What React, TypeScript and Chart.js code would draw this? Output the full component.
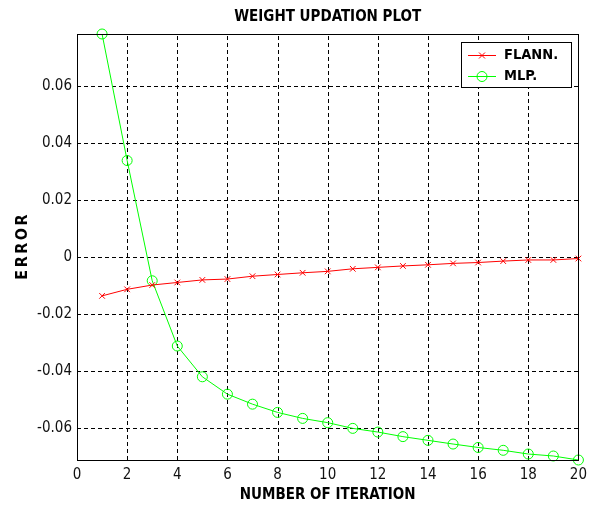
import React, { useEffect, useRef } from "react";
import { Chart, registerables } from "chart.js";

Chart.register(...registerables);

const iterations = [1, 2, 3, 4, 5, 6, 7, 8, 9, 10, 11, 12, 13, 14, 15, 16, 17, 18, 19, 20];
const flannError = [
  -0.0135, -0.0112, -0.0097, -0.0088, -0.0079, -0.0076, -0.0066, -0.006, -0.0054, -0.0049,
  -0.004, -0.0035, -0.003, -0.0026, -0.0021, -0.0018, -0.0013, -0.0009, -0.0009, -0.0004,
];
const mlpError = [
  0.0784, 0.034, -0.0082, -0.0311, -0.0419, -0.048, -0.0515, -0.0544, -0.0565, -0.058,
  -0.06, -0.0613, -0.0629, -0.0642, -0.0655, -0.0667, -0.0677, -0.069, -0.0697, -0.0711,
];
const xTicks = [0, 2, 4, 6, 8, 10, 12, 14, 16, 18, 20];
const yTicks = [-0.06, -0.04, -0.02, 0, 0.02, 0.04, 0.06];
const seriesNames = ["FLANN.", "MLP."];
const chartTitle = "WEIGHT UPDATION PLOT";
const xTitle = "NUMBER OF ITERATION";
const yTitle = "ERROR";

const FONT = "'Liberation Sans Narrow', 'Arial Narrow', 'DejaVu Sans Condensed', 'Liberation Sans', Arial, sans-serif";

// dashed grid drawn from the scales' own ticks
const dashedGridPlugin = {
  id: "dashedGrid",
  beforeDatasetsDraw(chart: any) {
    const { ctx, chartArea, scales } = chart;
    ctx.save();
    ctx.strokeStyle = "#000";
    ctx.lineWidth = 1;
    ctx.setLineDash([4, 3]);
    scales.x.ticks.forEach((t: any) => {
      const px = Math.round(scales.x.getPixelForValue(t.value)) + 0.5;
      if (px <= chartArea.left + 1 || px >= chartArea.right - 1) return;
      ctx.beginPath();
      ctx.moveTo(px, chartArea.bottom);
      ctx.lineTo(px, chartArea.top);
      ctx.stroke();
    });
    scales.y.ticks.forEach((t: any) => {
      const py = Math.round(scales.y.getPixelForValue(t.value)) + 0.5;
      if (py <= chartArea.top + 1 || py >= chartArea.bottom - 1) return;
      ctx.beginPath();
      ctx.moveTo(chartArea.left, py);
      ctx.lineTo(chartArea.right, py);
      ctx.stroke();
    });
    ctx.restore();
  },
};

const framePlugin = {
  id: "frame",
  afterDatasetsDraw(chart: any) {
    const { ctx, chartArea } = chart;
    ctx.save();
    ctx.strokeStyle = "#000";
    ctx.lineWidth = 1;
    ctx.setLineDash([]);
    ctx.strokeRect(
      Math.round(chartArea.left) + 0.5,
      Math.round(chartArea.top) + 0.5,
      Math.round(chartArea.right - chartArea.left),
      Math.round(chartArea.bottom - chartArea.top)
    );
    ctx.restore();
  },
};

// y-axis title with MATLAB-like letter spacing
const yTitlePlugin = {
  id: "yTitleSpaced",
  afterDraw(chart: any) {
    const { ctx, chartArea } = chart;
    ctx.save();
    ctx.translate(23, (chartArea.top + chartArea.bottom) / 2);
    ctx.rotate(-Math.PI / 2);
    ctx.fillStyle = "#000";
    ctx.font = `bold 16px ${FONT}`;
    (ctx as any).letterSpacing = "2.5px";
    ctx.textAlign = "center";
    ctx.textBaseline = "middle";
    ctx.fillText(yTitle, 1.25, 0);
    ctx.restore();
  },
};

const boxLegendPlugin = {
  id: "boxLegend",
  afterDraw(chart: any) {
    const { ctx, chartArea } = chart;
    const w = 110;
    const h = 45;
    const x0 = Math.round(chartArea.right - 7 - w);
    const y0 = Math.round(chartArea.top + 8);
    ctx.save();
    ctx.setLineDash([]);
    ctx.fillStyle = "#fff";
    ctx.fillRect(x0, y0, w, h);
    ctx.strokeStyle = "#000";
    ctx.lineWidth = 1;
    ctx.strokeRect(x0 + 0.5, y0 + 0.5, w, h);
    chart.data.datasets.forEach((ds: any, i: number) => {
      const cy = y0 + 13.5 + i * 21;
      ctx.strokeStyle = ds.borderColor;
      ctx.lineWidth = 1;
      ctx.beginPath();
      ctx.moveTo(x0 + 7, cy);
      ctx.lineTo(x0 + 35, cy);
      ctx.stroke();
      const mx = x0 + 21;
      if (ds.pointStyle === "circle") {
        ctx.beginPath();
        ctx.arc(mx, cy, ds.pointRadius, 0, Math.PI * 2);
        ctx.stroke();
      } else {
        const r = ds.pointRadius * 0.75;
        ctx.beginPath();
        ctx.moveTo(mx - r, cy - r);
        ctx.lineTo(mx + r, cy + r);
        ctx.moveTo(mx - r, cy + r);
        ctx.lineTo(mx + r, cy - r);
        ctx.stroke();
      }
      ctx.fillStyle = "#000";
      ctx.font = `bold 14.5px ${FONT}`;
      ctx.textBaseline = "middle";
      ctx.textAlign = "left";
      ctx.fillText(ds.label, x0 + 43, cy);
    });
    ctx.restore();
  },
};

export default function App() {
  const canvasRef = useRef<HTMLCanvasElement | null>(null);

  useEffect(() => {
    if (!canvasRef.current) return;
    const yMin = Math.min(...mlpError, ...flannError);
    const yMax = Math.max(...mlpError, ...flannError);
    const chart = new Chart(canvasRef.current, {
      type: "line",
      data: {
        datasets: [
          {
            label: seriesNames[0],
            data: iterations.map((x, i) => ({ x, y: flannError[i] })),
            borderColor: "#ff0000",
            backgroundColor: "#ff0000",
            borderWidth: 1,
            pointStyle: "crossRot",
            pointRadius: 4,
            pointBorderWidth: 1,
            pointBorderColor: "#ff0000",
            tension: 0,
            clip: false,
          } as any,
          {
            label: seriesNames[1],
            data: iterations.map((x, i) => ({ x, y: mlpError[i] })),
            borderColor: "#00ff00",
            backgroundColor: "rgba(0,0,0,0)",
            borderWidth: 1,
            pointStyle: "circle",
            pointRadius: 5,
            pointBorderWidth: 1,
            pointBorderColor: "#00ff00",
            pointBackgroundColor: "rgba(0,0,0,0)",
            tension: 0,
            clip: false,
          } as any,
        ],
      },
      options: {
        animation: false,
        responsive: false,
        layout: { padding: { left: 0, right: 14, top: 0, bottom: 0 } },
        plugins: {
          legend: { display: false },
          tooltip: { enabled: false },
          title: {
            display: true,
            text: chartTitle,
            fullSize: false,
            color: "#000",
            font: { family: FONT, size: 15, weight: "bold", lineHeight: 1.2 },
            padding: { top: 8, bottom: 8 },
          },
        },
        scales: {
          x: {
            type: "linear",
            min: 0,
            max: 20,
            afterBuildTicks: (s: any) => {
              s.ticks = xTicks.map((v) => ({ value: v }));
            },
            afterFit: (s: any) => {
              s.height = 48;
            },
            grid: { display: false, drawTicks: false },
            border: { display: true, color: "#000", width: 1 },
            ticks: {
              color: "#111",
              font: { family: FONT, size: 15 },
              padding: 6,
              maxRotation: 0,
              callback: (v: any) => String(v),
            },
            title: {
              display: true,
              text: xTitle,
              color: "#000",
              font: { family: FONT, size: 15, weight: "bold", lineHeight: 1.2 },
              padding: { top: 0, bottom: 4 },
            },
          },
          y: {
            type: "linear",
            min: yMin,
            max: yMax,
            afterBuildTicks: (s: any) => {
              s.ticks = yTicks.map((v) => ({ value: v }));
            },
            afterFit: (s: any) => {
              s.width = 77;
            },
            grid: { display: false, drawTicks: false },
            border: { display: true, color: "#000", width: 1 },
            ticks: {
              color: "#111",
              font: { family: FONT, size: 15 },
              padding: 5,
              callback: (v: any) => String(Number(Number(v).toFixed(2))),
            },
            title: { display: false, text: yTitle },
          },
        },
      } as any,
      plugins: [dashedGridPlugin, framePlugin, yTitlePlugin, boxLegendPlugin],
    });
    return () => chart.destroy();
  }, []);

  return (
    <div style={{ position: "absolute", left: 0, top: 0, width: 593, height: 508, background: "#fff" }}>
      <canvas ref={canvasRef} width={593} height={508} style={{ display: "block" }} />
    </div>
  );
}
